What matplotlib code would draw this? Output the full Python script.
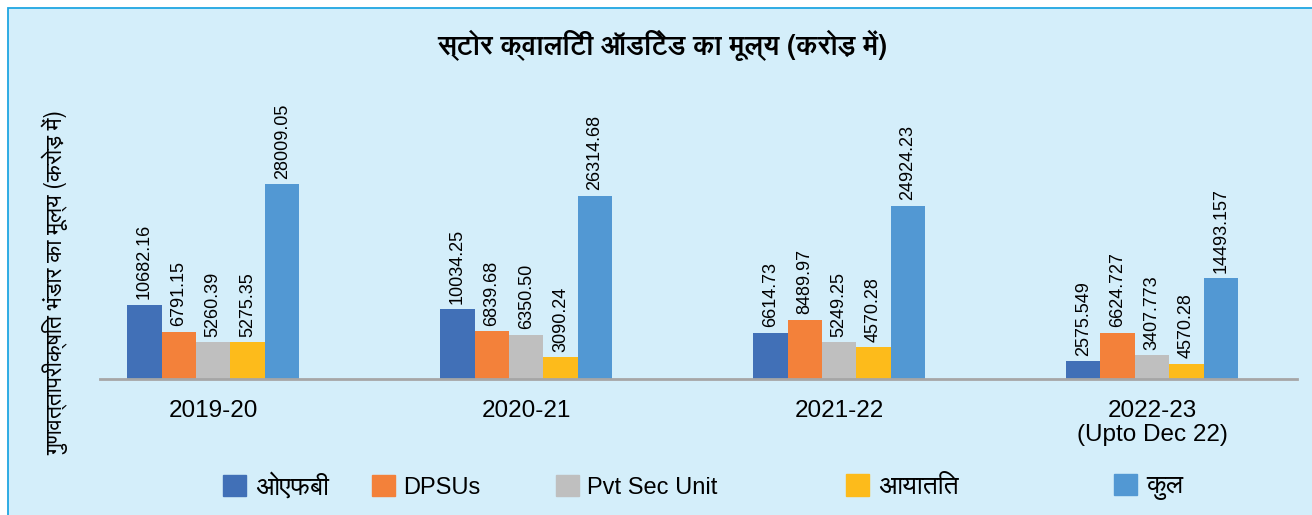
import matplotlib
matplotlib.use("Agg")
import matplotlib.pyplot as plt
import matplotlib.patches as mpatches
from matplotlib import font_manager as fm
from matplotlib.ft2font import FT2Font
import numpy as np

# ---------------- data ----------------
years = ["2019-20", "2020-21", "2021-22", "2022-23\n(Upto Dec 22)"]
series_names = ["ओएफबी", "DPSUs", "Pvt Sec Unit", "आयातित", "कुल"]

ofb_values = [10682.16, 10034.25, 6614.73, 2575.549]
dpsu_values = [6791.15, 6839.68, 8489.97, 6624.727]
pvt_values = [5260.39, 6350.50, 5249.25, 3407.773]
import_values = [5275.35, 3090.24, 4570.28, 2160.0]   # bar heights as drawn
total_values = [28009.05, 26314.68, 24924.23, 14493.157]

ofb_labels = ["10682.16", "10034.25", "6614.73", "2575.549"]
dpsu_labels = ["6791.15", "6839.68", "8489.97", "6624.727"]
pvt_labels = ["5260.39", "6350.50", "5249.25", "3407.773"]
import_labels = ["5275.35", "3090.24", "4570.28", "4570.28"]
total_labels = ["28009.05", "26314.68", "24924.23", "14493.157"]

title_text = "स्टोर क्वालिटी ऑडिटेड का मूल्य (करोड़ में)"
ylabel_text = "गुणवत्तापरीक्षित भंडार का मूल्य (करोड़ में)"

# ---------------- fonts ----------------
latin = "Liberation Sans"
installed = {f.name for f in fm.fontManager.ttflist}
deva = None
for cand in ["FreeSans", "Noto Sans Devanagari", "Hind", "Mukta"]:
    if cand in installed:
        deva = cand
        break
if deva is None:
    for f in fm.fontManager.ttflist:
        try:
            if 0x0915 in FT2Font(f.fname).get_charmap():
                deva = f.name
                break
        except Exception:
            pass
hindi_family = [deva, latin] if deva else [latin, "DejaVu Sans"]
plt.rcParams["font.family"] = hindi_family

colors = ["#4170B7", "#F3813A", "#BFBFBF", "#FDBB1B", "#5298D3"]

W, H = 1312, 515
fig = plt.figure(figsize=(W / 100, H / 100), dpi=100, facecolor="white")

# background panel with border (top and left visible)
bg = mpatches.Rectangle((7.5 / W, -0.05), 1.2, 1 - 7.5 / H + 0.05,
                        transform=fig.transFigure, facecolor="#D4EEFA",
                        edgecolor="#1FA6E2", lw=1.3, zorder=-5)
fig.patches.append(bg)

ax = fig.add_axes([100 / W, 136 / H, 1197 / W, 278.4 / H])
ax.set_facecolor("none")

x = np.arange(len(years))
bw = 0.11
all_vals = [ofb_values, dpsu_values, pvt_values, import_values, total_values]
all_labels = [ofb_labels, dpsu_labels, pvt_labels, import_labels, total_labels]

for i, (vals, labs) in enumerate(zip(all_vals, all_labels)):
    pos = x + (i - 2) * bw
    bars = ax.bar(pos, vals, width=bw, color=colors[i], label=series_names[i],
                  zorder=2)
    for b, lab in zip(bars, labs):
        ax.annotate(lab, (b.get_x() + b.get_width() / 2, b.get_height()),
                    xytext=(0, 4), textcoords="offset points",
                    rotation=90, ha="center", va="bottom",
                    fontsize=13, family=latin, color="black")

ax.set_xlim(-0.362, 3.463)
ax.set_ylim(0, 40000)
ax.set_xticks(x)
ax.set_xticklabels(years, fontsize=17.5, family=latin, linespacing=1.1)
ax.tick_params(axis="x", length=0, pad=15)
ax.set_yticks([])
for s in ["top", "right", "left"]:
    ax.spines[s].set_visible(False)
ax.spines["bottom"].set_color("#A6A6A6")
ax.spines["bottom"].set_linewidth(2)

fig.text(662 / W, 1 - 45 / H, title_text, ha="center", va="center",
         fontsize=19.5, fontweight="bold", family=hindi_family)
fig.text(55 / W, 1 - 282 / H, ylabel_text, ha="center", va="center",
         rotation=90, fontsize=16.5, family=hindi_family)

# legend entries
legend_x = [223, 372, 556, 846, 1114]
square_px = 23.0
handles = [mpatches.Patch(color=c) for c in colors]
for h, name, lx in zip(handles, series_names, legend_x):
    is_hindi = any(ord(ch) > 0x900 for ch in name)
    fam = hindi_family if is_hindi else [latin]
    size = 19 if is_hindi else 17
    hl = square_px / (size * 100 / 72)
    fig.legend([h], [name], loc="center left",
               bbox_to_anchor=(lx / W, 1 - 487 / H),
               frameon=False, borderpad=0, borderaxespad=0,
               handlelength=hl, handleheight=hl, handletextpad=0.35,
               prop={"family": fam, "size": size})

fig.savefig("out.png", dpi=100, facecolor="white")
